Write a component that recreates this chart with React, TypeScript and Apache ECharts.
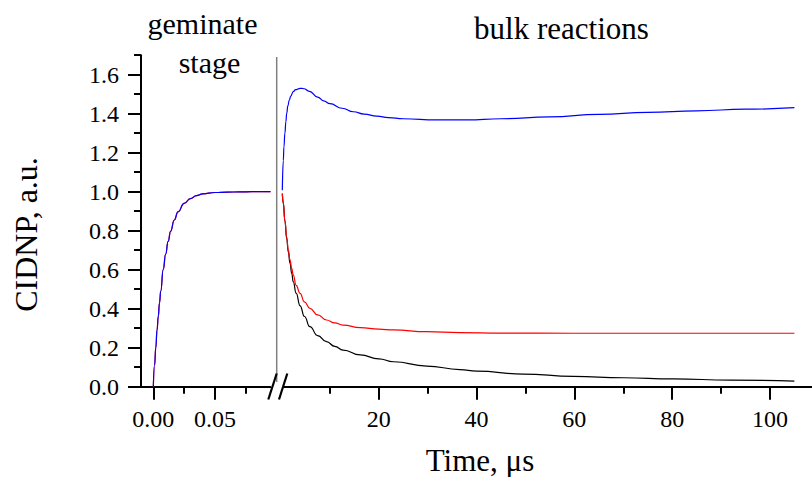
import React, { useEffect, useRef } from "react";
import * as echarts from "echarts";

// geminate stage (left panel)
const gemT = [0, 0.001, 0.002, 0.003, 0.004, 0.005, 0.006, 0.008, 0.010, 0.012, 0.014, 0.017, 0.020, 0.025, 0.030, 0.035, 0.040, 0.050, 0.060, 0.070, 0.080, 0.095];
const gemV = [0, 0.11, 0.20, 0.29, 0.36, 0.43, 0.49, 0.60, 0.68, 0.745, 0.797, 0.855, 0.897, 0.94, 0.965, 0.98, 0.989, 0.996, 0.998, 0.999, 1.0, 1.0];

// bulk reactions (right panel), time in µs
const blueT = [0.27, 0.47, 0.6, 0.8, 1.0, 1.16, 1.4, 1.7, 2.0, 2.5, 3.0, 3.7, 4.2, 4.7, 5.8, 7.5, 8.7, 10, 12.5, 14.8, 17, 19.6, 22, 25, 31.8, 38, 45, 55, 65, 75, 85, 95, 105];
const blueV = [1.008, 1.16, 1.23, 1.30, 1.36, 1.40, 1.44, 1.47, 1.49, 1.513, 1.523, 1.529, 1.530, 1.528, 1.515, 1.485, 1.466, 1.452, 1.428, 1.41, 1.398, 1.388, 1.38, 1.374, 1.368, 1.368, 1.374, 1.384, 1.397, 1.407, 1.415, 1.423, 1.431];

const redT = [0.27, 0.48, 0.8, 1.16, 1.5, 1.84, 2.2, 2.5, 3.1, 3.9, 4.8, 5.9, 7.5, 9.3, 11, 12.7, 16.2, 20, 23, 29.8, 36.6, 45, 60, 80, 105];
const redV = [0.99, 0.94, 0.85, 0.769, 0.70, 0.65, 0.607, 0.573, 0.52, 0.479, 0.435, 0.402, 0.368, 0.342, 0.327, 0.316, 0.303, 0.295, 0.291, 0.282, 0.277, 0.275, 0.274, 0.274, 0.274];

const blackT = [0.27, 0.48, 0.8, 1.16, 1.5, 1.84, 2.2, 2.5, 3.1, 3.9, 4.8, 5.9, 7.5, 9.3, 11, 12.7, 16.2, 20, 23, 29.8, 36.6, 40, 49.5, 59.8, 70, 80.2, 92, 105];
const blackV = [0.99, 0.94, 0.85, 0.76, 0.69, 0.633, 0.58, 0.539, 0.48, 0.415, 0.36, 0.308, 0.262, 0.231, 0.207, 0.188, 0.163, 0.143, 0.128, 0.106, 0.088, 0.08, 0.065, 0.053, 0.046, 0.04, 0.034, 0.029];

// ticks
const yMajor = [0, 0.2, 0.4, 0.6, 0.8, 1.0, 1.2, 1.4, 1.6];
const yMinor = [0.1, 0.3, 0.5, 0.7, 0.9, 1.1, 1.3, 1.5, 1.7];
const leftXMajor = [0, 0.05];
const leftXMinor = [0.025, 0.075];
const rightXMajor = [20, 40, 60, 80, 100];
const rightXMinor = [10, 30, 50, 70, 90];

const zip = (a: number[], b: number[]) => a.map((x, i) => [x, b[i]]);

const FONT = "Liberation Serif";

export default function App() {
  const ref = useRef<HTMLDivElement>(null);
  useEffect(() => {
    if (!ref.current) return;
    const chart = echarts.init(ref.current, null, { renderer: "svg" });
    const gTop = 55.2;
    const gH = 331.5;
    const axisLine = { show: true, onZero: false, lineStyle: { color: "#000", width: 2 } };
    const label = { color: "#000", fontFamily: FONT, fontSize: 24 };
    const minorAxisX = (gridIndex: number, min: number, max: number, vals: number[]) => ({
      type: "value", gridIndex, min, max, position: "bottom",
      axisLine: { show: false, onZero: false }, splitLine: { show: false },
      axisLabel: { show: false },
      axisTick: { show: true, customValues: vals, length: 7, lineStyle: { color: "#000", width: 2 } },
    });
    const lineSeries = (name: string, data: number[][], color: string, xi: number, yi: number, z: number) => ({
      name, type: "line", data, xAxisIndex: xi, yAxisIndex: yi, showSymbol: false, symbol: "none",
      smooth: 0.5, smoothMonotone: "x", z,
      lineStyle: { color, width: 1.2 },
    });
    chart.setOption({
      animation: false,
      backgroundColor: "#fff",
      grid: [
        { left: 141, top: gTop, width: 129.5, height: gH },
        { left: 281, top: gTop, width: 531, height: gH },
      ],
      xAxis: [
        {
          type: "value", gridIndex: 0, min: -0.01, max: 0.095, position: "bottom",
          axisLine, splitLine: { show: false },
          axisTick: { show: true, customValues: leftXMajor, length: 13, lineStyle: { color: "#000", width: 2 } },
          axisLabel: { ...label, customValues: leftXMajor, margin: 20, formatter: (v: number) => v.toFixed(2) },
        },
        minorAxisX(0, -0.01, 0.095, leftXMinor),
        {
          type: "value", gridIndex: 1, min: 0, max: 108.6, position: "bottom",
          axisLine, splitLine: { show: false },
          axisTick: { show: true, customValues: rightXMajor, length: 13, lineStyle: { color: "#000", width: 2 } },
          axisLabel: { ...label, customValues: rightXMajor, margin: 20, formatter: (v: number) => String(v) },
        },
        minorAxisX(1, 0, 108.6, rightXMinor),
      ],
      yAxis: [
        {
          type: "value", gridIndex: 0, min: 0, max: 1.7, position: "left",
          axisLine, splitLine: { show: false },
          axisTick: { show: true, customValues: yMajor, length: 13, lineStyle: { color: "#000", width: 2 } },
          axisLabel: { ...label, customValues: yMajor, margin: 22, formatter: (v: number) => v.toFixed(1) },
        },
        {
          type: "value", gridIndex: 0, min: 0, max: 1.7, position: "left",
          axisLine: { show: false, onZero: false }, splitLine: { show: false }, axisLabel: { show: false },
          axisTick: { show: true, customValues: yMinor, length: 7, lineStyle: { color: "#000", width: 2 } },
        },
        { type: "value", gridIndex: 1, min: 0, max: 1.7, show: false },
      ],
      series: [
        lineSeries("geminate red", zip(gemT, gemV), "#ff0000", 0, 0, 2),
        lineSeries("geminate blue", zip(gemT, gemV), "#0000ff", 0, 0, 3),
        lineSeries("bulk black", zip(blackT, blackV), "#000000", 2, 2, 2),
        lineSeries("bulk red", zip(redT, redV), "#ff0000", 2, 2, 3),
        lineSeries("bulk blue", zip(blueT, blueV), "#0000ff", 2, 2, 4),
      ],
      graphic: [
        { type: "line", z: 100, shape: { x1: 276.7, y1: 57, x2: 276.7, y2: 386 }, style: { stroke: "#808080", lineWidth: 1.5 } },
        { type: "rect", z: 100, shape: { x: 271, y: 382, width: 12.5, height: 9 }, style: { fill: "#fff" } },
        { type: "line", z: 101, shape: { x1: 268.3, y1: 399.5, x2: 276.7, y2: 373.5 }, style: { stroke: "#000", lineWidth: 2.2 } },
        { type: "line", z: 101, shape: { x1: 279, y1: 399.5, x2: 287.3, y2: 373.5 }, style: { stroke: "#000", lineWidth: 2.2 } },
        { type: "text", z: 100, style: { x: 202.5, y: 23, text: "geminate", fontFamily: FONT, fontSize: 30, fill: "#000", textAlign: "center", textVerticalAlign: "middle" } },
        { type: "text", z: 100, style: { x: 209.5, y: 62, text: "stage", fontFamily: FONT, fontSize: 30, fill: "#000", textAlign: "center", textVerticalAlign: "middle" } },
        { type: "text", z: 100, style: { x: 561.5, y: 28, text: "bulk reactions", fontFamily: FONT, fontSize: 31, fill: "#000", textAlign: "center", textVerticalAlign: "middle" } },
        { type: "text", z: 100, style: { x: 480, y: 460, text: "Time, μs", fontFamily: FONT, fontSize: 31, fill: "#000", textAlign: "center", textVerticalAlign: "middle" } },
        { type: "text", z: 100, x: 26, y: 234.5, rotation: Math.PI / 2, style: { x: 0, y: 0, text: "CIDNP, a.u.", fontFamily: FONT, fontSize: 32, fill: "#000", textAlign: "center", textVerticalAlign: "middle" } },
      ],
    });
    return () => chart.dispose();
  }, []);
  return <div ref={ref} style={{ position: "fixed", left: 0, top: 0, width: 812, height: 477 }} />;
}
